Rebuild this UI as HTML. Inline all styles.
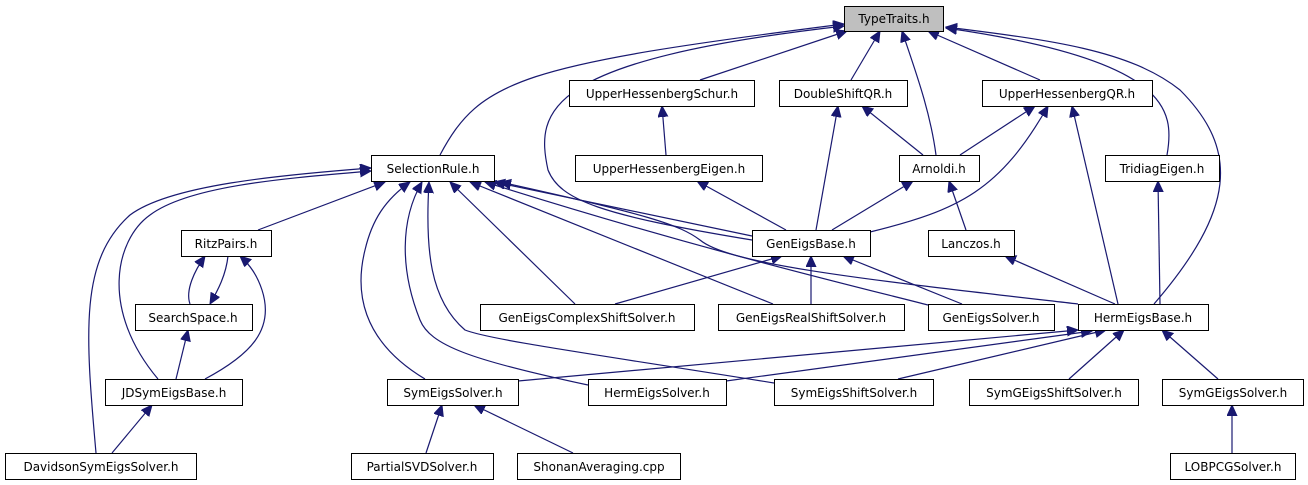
<!DOCTYPE html>
<html><head><meta charset="utf-8"><style>
html,body{margin:0;padding:0;background:#fff;}
svg{display:block;}
text{font-family:"DejaVu Sans","Liberation Sans",sans-serif;font-size:12px;fill:#000;}
</style></head><body>
<svg width="1308" height="485" viewBox="0 0 1308 485" xmlns="http://www.w3.org/2000/svg">
<defs>
<marker id="a" markerUnits="userSpaceOnUse" markerWidth="12" markerHeight="12" refX="11" refY="5" orient="auto">
<path d="M0,0 L11,5 L0,10 Z" fill="#191970" stroke="#191970"/>
</marker>
</defs>
<g fill="none" stroke="#191970" stroke-width="1.2" marker-end="url(#a)">
<path d="M700,80 L847,31"/>
<path d="M851,80 L880,31"/>
<path d="M936,155 C930,110 915,70 902,31"/>
<path d="M1040,80 L928,31"/>
<path d="M1167,155 C1175,110 1170,60 946,28"/>
<path d="M1154,304 C1235,210 1240,150 1180,90 C1130,50 1050,40 946,27"/>
<path d="M440,155 C480,80 520,65 844,24"/>
<path d="M752,240 C600,215 560,200 548,170 C535,110 545,60 844,26"/>
<path d="M666,155 L662,106"/>
<path d="M923,155 L862,106"/>
<path d="M960,155 L1035,106"/>
<path d="M816,230 L838,106"/>
<path d="M870,232 C960,210 1000,190 1048,106"/>
<path d="M1118,304 L1072,106"/>
<path d="M832,230 L913,181"/>
<path d="M966,230 L949,181"/>
<path d="M786,230 L697,181"/>
<path d="M752,236 L494,182"/>
<path d="M1078,304 C870,280 730,265 700,240 C680,225 650,215 500,182"/>
<path d="M1115,304 L1005,256"/>
<path d="M1160,304 L1158,181"/>
<path d="M258,230 L385,182"/>
<path d="M158,379 C100,310 115,240 150,215 C190,185 290,178 371,171"/>
<path d="M96,453 C85,330 80,260 130,215 C170,185 280,175 371,168"/>
<path d="M190,304 C185,290 195,270 205,256"/>
<path d="M228,256 C226,275 218,290 210,304"/>
<path d="M205,379 C250,355 275,330 262,290 C257,275 250,265 240,256"/>
<path d="M176,379 L188,330"/>
<path d="M112,453 L152,405"/>
<path d="M425,379 C360,340 355,290 365,250 C372,220 385,200 410,182"/>
<path d="M588,385 C470,360 430,345 420,320 C400,270 400,220 422,182"/>
<path d="M774,383 C600,355 490,340 465,330 C430,300 425,250 429,182"/>
<path d="M575,304 L450,182"/>
<path d="M773,304 L470,182"/>
<path d="M928,305 C870,290 700,250 485,182"/>
<path d="M615,304 L782,256"/>
<path d="M811,304 L811,256"/>
<path d="M962,304 L843,256"/>
<path d="M518,381 L1078,330"/>
<path d="M726,381 L1092,331"/>
<path d="M898,379 L1106,330"/>
<path d="M1069,379 L1124,330"/>
<path d="M1218,379 L1162,330"/>
<path d="M1232,453 L1232,405"/>
<path d="M426,453 L442,405"/>
<path d="M573,453 L474,405"/>
</g>
<g stroke="#000" stroke-width="1" fill="#fff">
<rect x="844.5" y="6.5" width="99" height="25" fill="#bfbfbf"/>
<rect x="569.5" y="80.5" width="185" height="26"/>
<rect x="779.5" y="80.5" width="128" height="26"/>
<rect x="982.5" y="80.5" width="170" height="26"/>
<rect x="371.5" y="155.5" width="123" height="26"/>
<rect x="575.5" y="155.5" width="187" height="26"/>
<rect x="899.5" y="155.5" width="80" height="26"/>
<rect x="1105.5" y="155.5" width="114" height="26"/>
<rect x="181.5" y="230.5" width="90" height="26"/>
<rect x="752.5" y="230.5" width="118" height="26"/>
<rect x="928.5" y="230.5" width="86" height="26"/>
<rect x="135.5" y="304.5" width="117" height="26"/>
<rect x="480.5" y="304.5" width="214" height="26"/>
<rect x="718.5" y="304.5" width="186" height="26"/>
<rect x="928.5" y="304.5" width="126" height="26"/>
<rect x="1078.5" y="304.5" width="130" height="26"/>
<rect x="105.5" y="379.5" width="137" height="26"/>
<rect x="387.5" y="379.5" width="131" height="26"/>
<rect x="588.5" y="379.5" width="138" height="26"/>
<rect x="774.5" y="379.5" width="159" height="26"/>
<rect x="969.5" y="379.5" width="169" height="26"/>
<rect x="1162.5" y="379.5" width="141" height="26"/>
<rect x="5.5" y="453.5" width="191" height="26"/>
<rect x="351.5" y="453.5" width="142" height="26"/>
<rect x="517.5" y="453.5" width="163" height="26"/>
<rect x="1170.5" y="453.5" width="125" height="26"/>
</g>
<g text-anchor="middle">
<text x="894" y="23">TypeTraits.h</text>
<text x="662" y="98">UpperHessenbergSchur.h</text>
<text x="843" y="98">DoubleShiftQR.h</text>
<text x="1067" y="98">UpperHessenbergQR.h</text>
<text x="433" y="173">SelectionRule.h</text>
<text x="669" y="173">UpperHessenbergEigen.h</text>
<text x="939" y="173">Arnoldi.h</text>
<text x="1162" y="173">TridiagEigen.h</text>
<text x="226" y="248">RitzPairs.h</text>
<text x="811" y="248">GenEigsBase.h</text>
<text x="971" y="248">Lanczos.h</text>
<text x="193" y="322">SearchSpace.h</text>
<text x="587" y="322">GenEigsComplexShiftSolver.h</text>
<text x="811" y="322">GenEigsRealShiftSolver.h</text>
<text x="991" y="322">GenEigsSolver.h</text>
<text x="1143" y="322">HermEigsBase.h</text>
<text x="174" y="397">JDSymEigsBase.h</text>
<text x="453" y="397">SymEigsSolver.h</text>
<text x="657" y="397">HermEigsSolver.h</text>
<text x="854" y="397">SymEigsShiftSolver.h</text>
<text x="1054" y="397">SymGEigsShiftSolver.h</text>
<text x="1233" y="397">SymGEigsSolver.h</text>
<text x="101" y="471">DavidsonSymEigsSolver.h</text>
<text x="422" y="471">PartialSVDSolver.h</text>
<text x="599" y="471">ShonanAveraging.cpp</text>
<text x="1233" y="471">LOBPCGSolver.h</text>
</g>
</svg>
</body></html>
